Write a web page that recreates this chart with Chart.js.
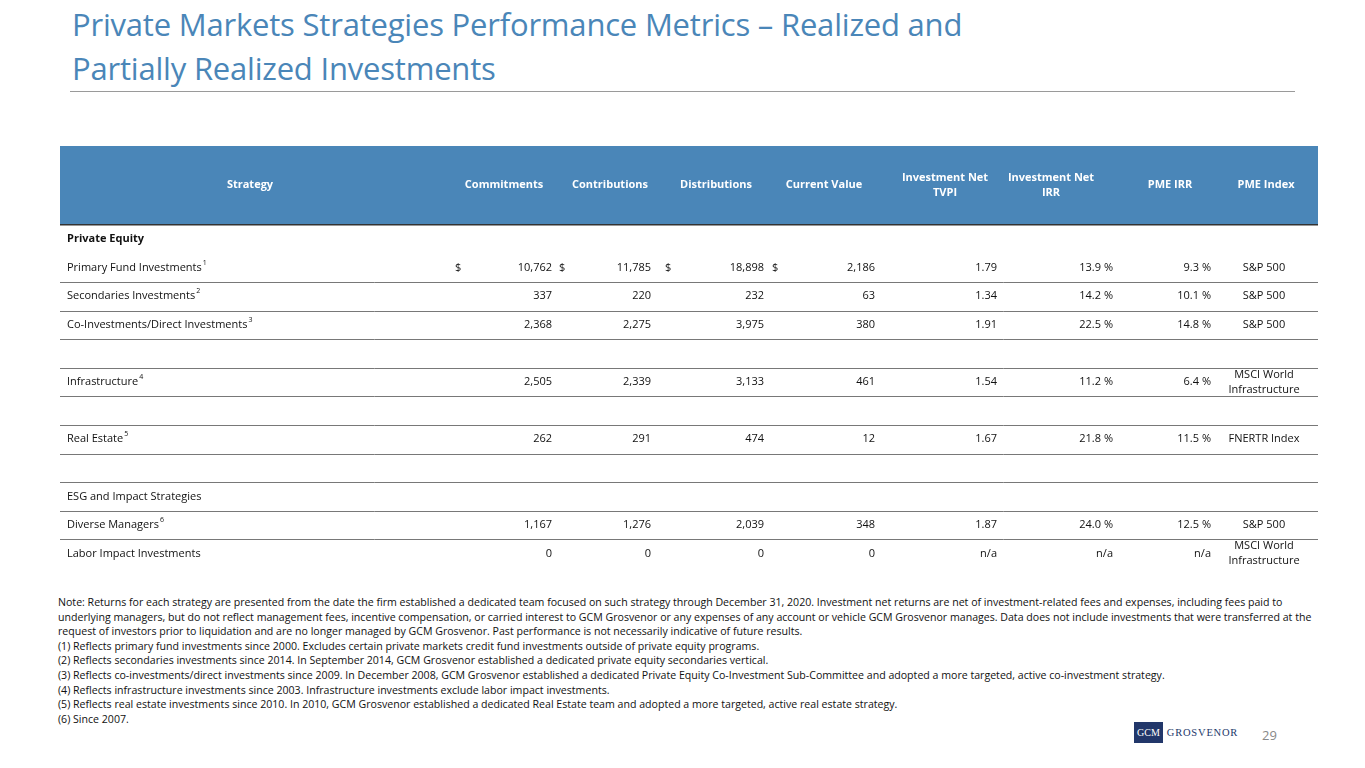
<!DOCTYPE html>
<html><head><meta charset="utf-8">
<script src="https://cdn.jsdelivr.net/npm/chart.js@4.4.1/dist/chart.umd.min.js"></script>
<style>
body{margin:0;width:1365px;height:768px;background:#fff;font-family:"Open Sans",sans-serif;position:relative;overflow:hidden}
#title{position:absolute;left:72px;top:2px;color:#4a86b8;font-size:31px;line-height:44px;letter-spacing:-0.2px}
#rule{position:absolute;left:70px;top:91px;width:1225px;height:1px;background:#9a9a9a}
#wrap{position:absolute;left:60px;top:146px;width:1258px;height:422px}
#notes{position:absolute;left:58px;top:595px;width:1260px;font-size:10.6px;line-height:14.6px;color:#111}
#pg{position:absolute;left:1262px;top:726px;font-size:13px;color:#888}
#logo{position:absolute;left:1134px;top:722px;display:flex;align-items:center}
#logo .b{background:#22376a;color:#fff;font-family:"Liberation Serif",serif;font-size:10px;padding:5px 3px}
#logo .t{color:#22376a;font-family:"Liberation Serif",serif;font-size:10.5px;letter-spacing:0.8px;margin-left:4px}
</style></head><body>
<div id="title">Private Markets Strategies Performance Metrics – Realized and<br>Partially Realized Investments</div>
<div id="rule"></div>
<div id="wrap"><canvas id="c"></canvas></div>
<div id="notes">Note: Returns for each strategy are presented from the date the firm established a dedicated team focused on such strategy through December 31, 2020. Investment net returns are net of investment-related fees and expenses, including fees paid to underlying managers, but do not reflect management fees, incentive compensation, or carried interest to GCM Grosvenor or any expenses of any account or vehicle GCM Grosvenor manages. Data does not include investments that were transferred at the request of investors prior to liquidation and are no longer managed by GCM Grosvenor. Past performance is not necessarily indicative of future results.<br>
(1) Reflects primary fund investments since 2000. Excludes certain private markets credit fund investments outside of private equity programs.<br>
(2) Reflects secondaries investments since 2014. In September 2014, GCM Grosvenor established a dedicated private equity secondaries vertical.<br>
(3) Reflects co-investments/direct investments since 2009. In December 2008, GCM Grosvenor established a dedicated Private Equity Co-Investment Sub-Committee and adopted a more targeted, active co-investment strategy.<br>
(4) Reflects infrastructure investments since 2003. Infrastructure investments exclude labor impact investments.<br>
(5) Reflects real estate investments since 2010. In 2010, GCM Grosvenor established a dedicated Real Estate team and adopted a more targeted, active real estate strategy.<br>
(6) Since 2007.</div>
<div id="logo"><span class="b">GCM</span><span class="t">GROSVENOR</span></div>
<div id="pg">29</div>
<script>
// table content, one entry per row
const headers = ['Strategy', 'Commitments', 'Contributions', 'Distributions', 'Current Value', 'Investment Net\nTVPI', 'Investment Net\nIRR', 'PME IRR', 'PME Index'];
const strategies = ['Private Equity', 'Primary Fund Investments', 'Secondaries Investments', 'Co-Investments/Direct Investments', '', 'Infrastructure', '', 'Real Estate', '', 'ESG and Impact Strategies', 'Diverse Managers', 'Labor Impact Investments'];
const footMarks = ['', '1', '2', '3', '', '4', '', '5', '', '', '6', ''];
const boldRows = [true, false, false, false, false, false, false, false, false, false, false, false];
const commitments = ['', '10,762', '337', '2,368', '', '2,505', '', '262', '', '', '1,167', '0'];
const contributions = ['', '11,785', '220', '2,275', '', '2,339', '', '291', '', '', '1,276', '0'];
const distributions = ['', '18,898', '232', '3,975', '', '3,133', '', '474', '', '', '2,039', '0'];
const currentValue = ['', '2,186', '63', '380', '', '461', '', '12', '', '', '348', '0'];
const tvpi = ['', '1.79', '1.34', '1.91', '', '1.54', '', '1.67', '', '', '1.87', 'n/a'];
const netIrr = ['', '13.9 %', '14.2 %', '22.5 %', '', '11.2 %', '', '21.8 %', '', '', '24.0 %', 'n/a'];
const pmeIrr = ['', '9.3 %', '10.1 %', '14.8 %', '', '6.4 %', '', '11.5 %', '', '', '12.5 %', 'n/a'];
const pmeIndex = ['', 'S&P 500', 'S&P 500', 'S&P 500', '', 'MSCI World\nInfrastructure', '', 'FNERTR Index', '', '', 'S&P 500', 'MSCI World\nInfrastructure'];
const dollarRow = 1;

const HEAD = 2.75; // header height in row units
const headX = [190, 444, 550, 656, 764, 885, 991, 1110, 1206];
const valRight = [null, 492, 591, 704, 815, 937, 1053, 1151];
const dollarX = [395, 499, 605, 712];
const cols = [commitments, contributions, distributions, currentValue, tvpi, netIrr, pmeIrr];

const tablePlugin = {
  id: 'table',
  afterDraw(chart) {
    const {ctx, scales: {x, y}} = chart;
    ctx.save();
    const l = x.getPixelForValue(0), r = x.getPixelForValue(1258);
    ctx.fillStyle = '#4a86b8';
    ctx.fillRect(l, y.getPixelForValue(0), r - l, y.getPixelForValue(HEAD) - y.getPixelForValue(0));
    ctx.strokeStyle = '#333'; ctx.lineWidth = 1.5;
    ctx.beginPath(); ctx.moveTo(l, y.getPixelForValue(HEAD)); ctx.lineTo(r, y.getPixelForValue(HEAD)); ctx.stroke();
    ctx.fillStyle = '#fff'; ctx.font = 'bold 11px "Open Sans"'; ctx.textAlign = 'center'; ctx.textBaseline = 'middle';
    headers.forEach((h, i) => {
      const parts = h.split('\n');
      parts.forEach((p, k) => ctx.fillText(p, x.getPixelForValue(headX[i]), y.getPixelForValue(HEAD / 2 + (k - (parts.length - 1) / 2) * 0.55)));
    });
    strategies.forEach((s, i) => {
      const cy = y.getPixelForValue(HEAD + i + 0.5);
      if (i > 0) {
        ctx.strokeStyle = '#555'; ctx.lineWidth = 0.8;
        const ly = Math.round(y.getPixelForValue(HEAD + i + 1)) + 0.5;
        ctx.beginPath(); ctx.moveTo(l, ly); ctx.lineTo(r, ly); ctx.stroke();
      }
      ctx.fillStyle = '#111'; ctx.textAlign = 'left';
      ctx.font = (boldRows[i] ? 'bold ' : '') + '11px "Open Sans"';
      ctx.fillText(s, x.getPixelForValue(7), cy);
      if (footMarks[i]) {
        const w = ctx.measureText(s).width;
        ctx.font = '7px "Open Sans"';
        ctx.fillText(footMarks[i], x.getPixelForValue(7) + w + 1, cy - 5);
      }
      ctx.font = '11px "Open Sans"';
      ctx.textAlign = 'right';
      cols.forEach((col, c) => ctx.fillText(col[i], x.getPixelForValue(valRight[c + 1]), cy));
      if (i === dollarRow) {
        ctx.textAlign = 'left';
        dollarX.forEach(dx => ctx.fillText('$', x.getPixelForValue(dx), cy));
      }
      ctx.textAlign = 'center';
      const parts = pmeIndex[i].split('\n');
      parts.forEach((p, k) => ctx.fillText(p, x.getPixelForValue(1204), cy + (k - (parts.length - 1) / 2) * 15));
    });
    ctx.restore();
  }
};

new Chart(document.getElementById('c'), {
  type: 'scatter',
  data: {datasets: [{data: []}]},
  options: {
    responsive: true, maintainAspectRatio: false, animation: false,
    layout: {padding: 0},
    plugins: {legend: {display: false}, tooltip: {enabled: false}},
    scales: {
      x: {type: 'linear', min: 0, max: 1258, display: false},
      y: {type: 'linear', min: 0, max: HEAD + strategies.length, reverse: true, display: false}
    }
  },
  plugins: [tablePlugin]
});
</script>
</body></html>
